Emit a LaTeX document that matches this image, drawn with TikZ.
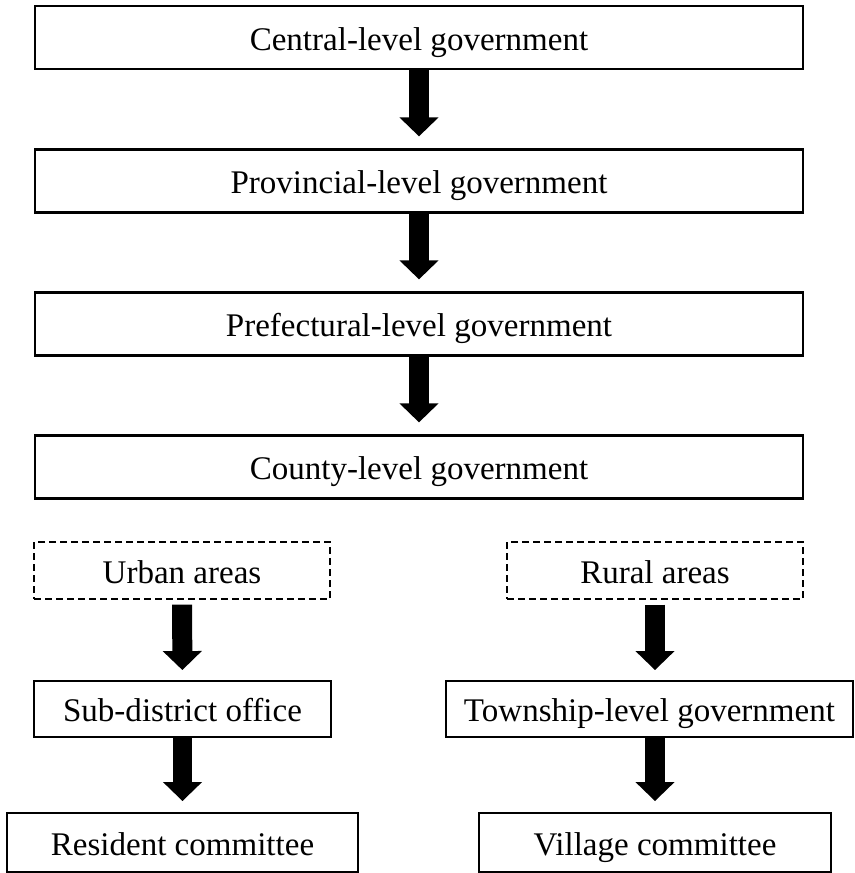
\documentclass[tikz,border=0pt]{standalone}
\usepackage{fontspec}
\setmainfont{Liberation Serif}
\usetikzlibrary{arrows.meta}

\tikzset{
	txt/.style={inner sep=0pt, text height=0.55cm, text depth=0.05cm, font=\fontsize{18.8pt}{22pt}\selectfont},
	level/.style={txt, draw, line width=1.3pt, minimum width=15.36cm, minimum height=1.26cm},
	area/.style={txt, draw, line width=0.8pt, dash pattern=on 0.14cm off 0.08cm, minimum width=5.92cm, minimum height=1.14cm},
	unit/.style={txt, draw, line width=1.1pt, minimum height=1.12cm},
	flow/.style={line width=0.4cm, -{Triangle[width=0.76cm, length=0.38cm]}, shorten >=0.24cm}
}

\begin{document}
\begin{tikzpicture}[x=0.02cm, y=-0.02cm]
	\useasboundingbox (0,0) rectangle (855,873);
	\node (c1) [level] at (419, 37.5) {Central-level government};
	\node (c2) [level] at (419, 181) {Provincial-level government};
	\node (c3) [level] at (419, 324) {Prefectural-level government};
	\node (c4) [level] at (419, 467) {County-level government};
	\node (urb) [area] at (182, 570.5) {Urban areas};
	\node (rur) [area] at (655, 570.5) {Rural areas};
	\node (sub) [unit, minimum width=5.94cm] at (182.5, 709) {Sub-district office};
	\node (town) [unit, minimum width=8.14cm] at (649.5, 709) {Township-level government};
	\node (res) [unit, minimum width=7.02cm, minimum height=1.18cm] at (182.5, 842.5) {Resident committee};
	\node (vill) [unit, minimum width=7.04cm, minimum height=1.18cm] at (655, 842.5) {Village committee};
	\draw[flow] (c1) -- (c2);
	\draw[flow] (c2) -- (c3);
	\draw[flow] (c3) -- (c4);
	\draw[flow, shorten <=0.1cm, shorten >=0.2cm] (urb) -- (sub);
	\draw[flow, shorten <=0.1cm, shorten >=0.2cm] (rur.south) -- (rur.south |- town.north);
	\draw[flow, shorten >=0.22cm] (sub) -- (res);
	\draw[flow, shorten >=0.22cm] (town.south -| vill.north) -- (vill.north);
\end{tikzpicture}
\end{document}
